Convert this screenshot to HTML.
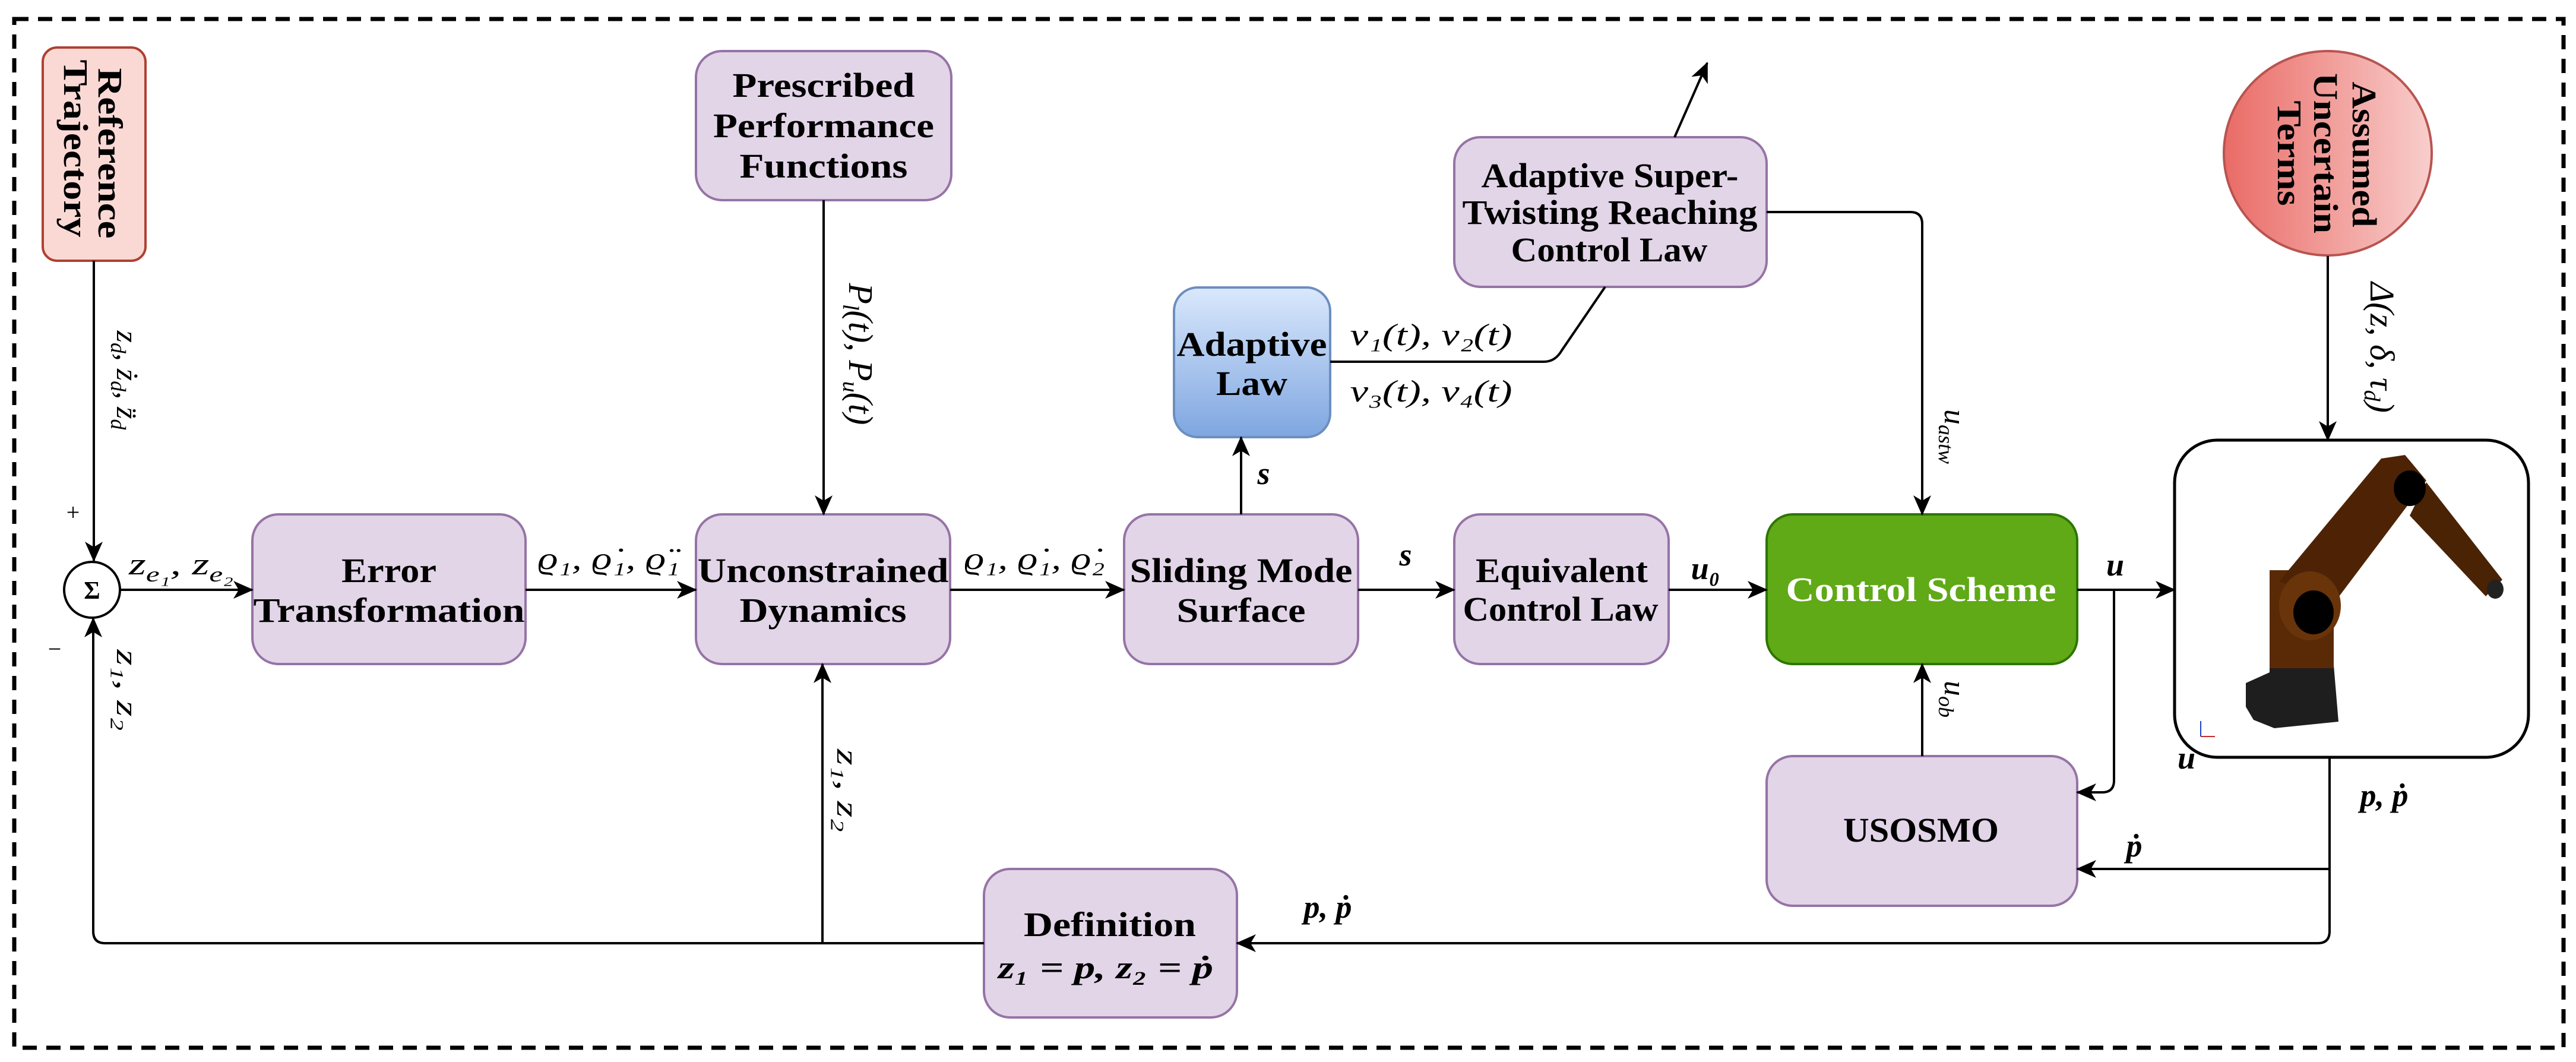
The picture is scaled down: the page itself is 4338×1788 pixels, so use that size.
<!DOCTYPE html>
<html><head><meta charset="utf-8"><style>
html,body{margin:0;padding:0;background:#fff;}
svg{display:block;}
.b{font-family:"Liberation Serif","DejaVu Serif",serif;font-weight:bold;font-size:58px;fill:#000;}
.m{font-family:"Liberation Serif","DejaVu Serif",serif;font-style:italic;font-size:52px;fill:#000;}
.mb{font-family:"Liberation Serif","DejaVu Serif",serif;font-style:italic;font-weight:bold;font-size:54px;fill:#000;}
.ln{fill:none;stroke:#000;stroke-width:4;}
</style></head><body>
<svg width="4338" height="1788" viewBox="0 0 4338 1788" xmlns="http://www.w3.org/2000/svg">
<defs>
<marker id="a" markerUnits="userSpaceOnUse" markerWidth="34" markerHeight="30" refX="32" refY="15" orient="auto">
<path d="M0,0 L34,15 L0,30 L9,15 z" fill="#000"/></marker>
<linearGradient id="gb" x1="0" y1="0" x2="0" y2="1"><stop offset="0" stop-color="#dae8fc"/><stop offset="1" stop-color="#7ea6e0"/></linearGradient>
<linearGradient id="gr" x1="0" y1="0" x2="1" y2="0"><stop offset="0" stop-color="#ea6b66"/><stop offset="1" stop-color="#f8cecc"/></linearGradient>
</defs>
<rect x="24" y="32" width="4293" height="1732" fill="none" stroke="#000" stroke-width="7" stroke-dasharray="24,16"/>

<!-- boxes -->
<rect x="72" y="80" width="173" height="359" rx="24" fill="#fad9d5" stroke="#ae4132" stroke-width="4"/>
<rect x="425" y="866" width="460" height="252" rx="44" fill="#e1d5e7" stroke="#9673a6" stroke-width="4"/>
<rect x="1172" y="866" width="428" height="252" rx="44" fill="#e1d5e7" stroke="#9673a6" stroke-width="4"/>
<rect x="1172" y="86" width="430" height="251" rx="44" fill="#e1d5e7" stroke="#9673a6" stroke-width="4"/>
<rect x="1893" y="866" width="394" height="252" rx="44" fill="#e1d5e7" stroke="#9673a6" stroke-width="4"/>
<rect x="1977" y="484" width="263" height="252" rx="40" fill="url(#gb)" stroke="#6c8ebf" stroke-width="4"/>
<rect x="2449" y="231" width="526" height="252" rx="44" fill="#e1d5e7" stroke="#9673a6" stroke-width="4"/>
<rect x="2449" y="866" width="361" height="252" rx="44" fill="#e1d5e7" stroke="#9673a6" stroke-width="4"/>
<rect x="2975" y="866" width="523" height="252" rx="44" fill="#60a917" stroke="#2d7600" stroke-width="4"/>
<rect x="2975" y="1273" width="523" height="252" rx="44" fill="#e1d5e7" stroke="#9673a6" stroke-width="4"/>
<rect x="1657" y="1463" width="426" height="250" rx="44" fill="#e1d5e7" stroke="#9673a6" stroke-width="4"/>
<rect x="3662" y="741" width="596" height="534" rx="72" fill="#fff" stroke="#000" stroke-width="5"/>
<ellipse cx="3920" cy="258" rx="175" ry="172" fill="url(#gr)" stroke="#b85450" stroke-width="4"/>
<circle cx="155" cy="993" r="47" fill="#fff" stroke="#000" stroke-width="4"/>
<text x="155" y="1008" text-anchor="middle" font-family="Liberation Serif,DejaVu Serif,serif" font-size="42" font-weight="bold">Σ</text>

<!-- robot -->
<polygon points="3782,1150 3822,1132 3822,1120 3930,1120 3938,1215 3830,1226 3795,1212 3782,1190" fill="#1e1e1e"/>
<rect x="3822" y="960" width="108" height="165" fill="#5a2a06"/>
<polygon points="3838,979 4010,772 4050,766 4086,809 3930,1016" fill="#4e2305"/>
<polygon points="4058,868 4086,812 4214,976 4186,1004" fill="#4a2204"/>
<ellipse cx="4202" cy="992" rx="14" ry="16" fill="#222"/>
<ellipse cx="3890" cy="1020" rx="52" ry="58" fill="#6a340a"/>
<ellipse cx="3896" cy="1031" rx="34" ry="37" fill="#000"/>
<ellipse cx="4058" cy="822" rx="27" ry="30" fill="#000"/>
<line x1="3706" y1="1214" x2="3706" y2="1240" stroke="#2040d0" stroke-width="2"/>
<line x1="3706" y1="1240" x2="3730" y2="1240" stroke="#c03030" stroke-width="2"/>

<!-- connectors -->
<line class="ln" x1="158" y1="439" x2="158" y2="944" marker-end="url(#a)"/>
<line class="ln" x1="203" y1="993" x2="425" y2="993" marker-end="url(#a)"/>
<line class="ln" x1="885" y1="993" x2="1172" y2="993" marker-end="url(#a)"/>
<line class="ln" x1="1387" y1="337" x2="1387" y2="866" marker-end="url(#a)"/>
<line class="ln" x1="1600" y1="993" x2="1893" y2="993" marker-end="url(#a)"/>
<line class="ln" x1="2090" y1="866" x2="2090" y2="736" marker-end="url(#a)"/>
<path class="ln" d="M2240,609 L2600,609 Q2619,609 2630,590 L2703,483"/>
<line class="ln" x1="2820" y1="231" x2="2875" y2="106" marker-end="url(#a)"/>
<line class="ln" x1="2287" y1="993" x2="2449" y2="993" marker-end="url(#a)"/>
<line class="ln" x1="2810" y1="993" x2="2975" y2="993" marker-end="url(#a)"/>
<path class="ln" d="M2975,357 L3217,357 Q3237,357 3237,377 L3237,866" marker-end="url(#a)"/>
<line class="ln" x1="3237" y1="1273" x2="3237" y2="1118" marker-end="url(#a)"/>
<line class="ln" x1="3498" y1="993" x2="3662" y2="993" marker-end="url(#a)"/>
<path class="ln" d="M3560,993 L3560,1314 Q3560,1334 3540,1334 L3498,1334" marker-end="url(#a)"/>
<line class="ln" x1="3920" y1="431" x2="3920" y2="741" marker-end="url(#a)"/>
<path class="ln" d="M3923,1275 L3923,1568 Q3923,1588 3903,1588 L2083,1588" marker-end="url(#a)"/>
<line class="ln" x1="3923" y1="1463" x2="3498" y2="1463" marker-end="url(#a)"/>
<path class="ln" d="M1657,1588 L177,1588 Q157,1588 157,1568 L157,1041" marker-end="url(#a)"/>
<line class="ln" x1="1385" y1="1588" x2="1385" y2="1118" marker-end="url(#a)"/>

<!-- box text -->
<text class="b" transform="translate(166,258) rotate(90)" text-anchor="middle" textLength="287" lengthAdjust="spacingAndGlyphs">Reference</text>
<text class="b" transform="translate(108,250) rotate(90)" text-anchor="middle" textLength="299" lengthAdjust="spacingAndGlyphs">Trajectory</text>
<text class="b" x="655" y="980" text-anchor="middle" textLength="160" lengthAdjust="spacingAndGlyphs">Error</text>
<text class="b" x="655" y="1047" text-anchor="middle" textLength="457" lengthAdjust="spacingAndGlyphs">Transformation</text>
<text class="b" x="1386" y="980" text-anchor="middle" textLength="423" lengthAdjust="spacingAndGlyphs">Unconstrained</text>
<text class="b" x="1386" y="1047" text-anchor="middle" textLength="281" lengthAdjust="spacingAndGlyphs">Dynamics</text>
<text class="b" x="1387" y="163" text-anchor="middle" textLength="307" lengthAdjust="spacingAndGlyphs">Prescribed</text>
<text class="b" x="1387" y="231" text-anchor="middle" textLength="372" lengthAdjust="spacingAndGlyphs">Performance</text>
<text class="b" x="1387" y="299" text-anchor="middle" textLength="283" lengthAdjust="spacingAndGlyphs">Functions</text>
<text class="b" x="2090" y="980" text-anchor="middle" textLength="375" lengthAdjust="spacingAndGlyphs">Sliding Mode</text>
<text class="b" x="2090" y="1047" text-anchor="middle" textLength="217" lengthAdjust="spacingAndGlyphs">Surface</text>
<text class="b" x="2108" y="599" text-anchor="middle" textLength="253" lengthAdjust="spacingAndGlyphs">Adaptive</text>
<text class="b" x="2108" y="665" text-anchor="middle" textLength="120" lengthAdjust="spacingAndGlyphs">Law</text>
<text class="b" x="2711" y="315" text-anchor="middle" textLength="433" lengthAdjust="spacingAndGlyphs">Adaptive Super-</text>
<text class="b" x="2711" y="377" text-anchor="middle" textLength="497" lengthAdjust="spacingAndGlyphs">Twisting Reaching</text>
<text class="b" x="2710" y="440" text-anchor="middle" textLength="331" lengthAdjust="spacingAndGlyphs">Control Law</text>
<text class="b" x="2630" y="980" text-anchor="middle" textLength="290" lengthAdjust="spacingAndGlyphs">Equivalent</text>
<text class="b" x="2628" y="1045" text-anchor="middle" textLength="329" lengthAdjust="spacingAndGlyphs">Control Law</text>
<text class="b" x="3235" y="1012" text-anchor="middle" style="fill:#fff" textLength="455" lengthAdjust="spacingAndGlyphs">Control Scheme</text>
<text class="b" x="3235" y="1417" text-anchor="middle" textLength="262" lengthAdjust="spacingAndGlyphs">USOSMO</text>
<text class="b" x="1869" y="1576" text-anchor="middle" textLength="290" lengthAdjust="spacingAndGlyphs">Definition</text>
<text class="mb" x="1862" y="1647" text-anchor="middle" textLength="362" lengthAdjust="spacingAndGlyphs">z₁ = p, z₂ = ṗ</text>
<text class="b" transform="translate(3962,260) rotate(90)" text-anchor="middle" textLength="245" lengthAdjust="spacingAndGlyphs">Assumed</text>
<text class="b" transform="translate(3897,258) rotate(90)" text-anchor="middle" textLength="270" lengthAdjust="spacingAndGlyphs">Uncertain</text>
<text class="b" transform="translate(3836,258) rotate(90)" text-anchor="middle" textLength="177" lengthAdjust="spacingAndGlyphs">Terms</text>

<!-- labels -->
<text class="m" x="305" y="967" text-anchor="middle" textLength="176" lengthAdjust="spacingAndGlyphs">z<tspan dy="12" font-size="36">e₁</tspan><tspan dy="-12">, z</tspan><tspan dy="12" font-size="36">e₂</tspan></text>
<text class="m" x="1025" y="958" text-anchor="middle" textLength="239" lengthAdjust="spacingAndGlyphs">ϱ₁, ϱ̇₁, ϱ̈₁</text>
<text class="m" x="1742" y="958" text-anchor="middle" textLength="237" lengthAdjust="spacingAndGlyphs">ϱ₁, ϱ̇₁, ϱ̇₂</text>
<text class="mb" x="2367" y="952" text-anchor="middle">s</text>
<text class="mb" x="2128" y="815" text-anchor="middle">s</text>
<text class="m" x="2410" y="581" text-anchor="middle" textLength="273" lengthAdjust="spacingAndGlyphs">ν₁(t), ν₂(t)</text>
<text class="m" x="2410" y="676" text-anchor="middle" textLength="273" lengthAdjust="spacingAndGlyphs">ν₃(t), ν₄(t)</text>
<text class="mb" x="2872" y="975" text-anchor="middle">u₀</text>
<text class="mb" x="3562" y="969" text-anchor="middle">u</text>
<text class="mb" x="3682" y="1294" text-anchor="middle">u</text>
<text class="mb" x="3594" y="1442" text-anchor="middle">ṗ</text>
<text class="mb" x="4015" y="1357" text-anchor="middle">p, ṗ</text>
<text class="mb" x="2236" y="1545" text-anchor="middle">p, ṗ</text>
<text class="m" transform="translate(197,640) rotate(90)" text-anchor="middle">z<tspan dy="10" font-size="36">d</tspan><tspan dy="-10">, ż</tspan><tspan dy="10" font-size="36">d</tspan><tspan dy="-10">, z̈</tspan><tspan dy="10" font-size="36">d</tspan></text>
<text class="m" transform="translate(197,1162) rotate(90)" text-anchor="middle" textLength="137" lengthAdjust="spacingAndGlyphs">z₁, z₂</text>
<text class="m" transform="translate(1430,596) rotate(90)" text-anchor="middle" style="font-size:58px">P<tspan dy="10" font-size="38">l</tspan><tspan dy="-10">(t), P</tspan><tspan dy="10" font-size="38">u</tspan><tspan dy="-10">(t)</tspan></text>
<text class="m" transform="translate(1410,1331) rotate(90)" text-anchor="middle" textLength="140" lengthAdjust="spacingAndGlyphs">z₁, z₂</text>
<text class="m" transform="translate(3275,735) rotate(90)" text-anchor="middle">u<tspan dy="10" font-size="36">astw</tspan></text>
<text class="m" transform="translate(3275,1177) rotate(90)" text-anchor="middle">u<tspan dy="10" font-size="36">ob</tspan></text>
<text class="m" transform="translate(3992,585) rotate(90)" text-anchor="middle" style="font-size:58px">Δ(z, δ, τ<tspan dy="10" font-size="38">d</tspan><tspan dy="-10">)</tspan></text>
<text x="123" y="876" font-family="Liberation Serif,DejaVu Serif,serif" font-size="40" text-anchor="middle">+</text>
<text x="92" y="1106" font-family="Liberation Serif,DejaVu Serif,serif" font-size="40" text-anchor="middle">−</text>
</svg>
</body></html>
